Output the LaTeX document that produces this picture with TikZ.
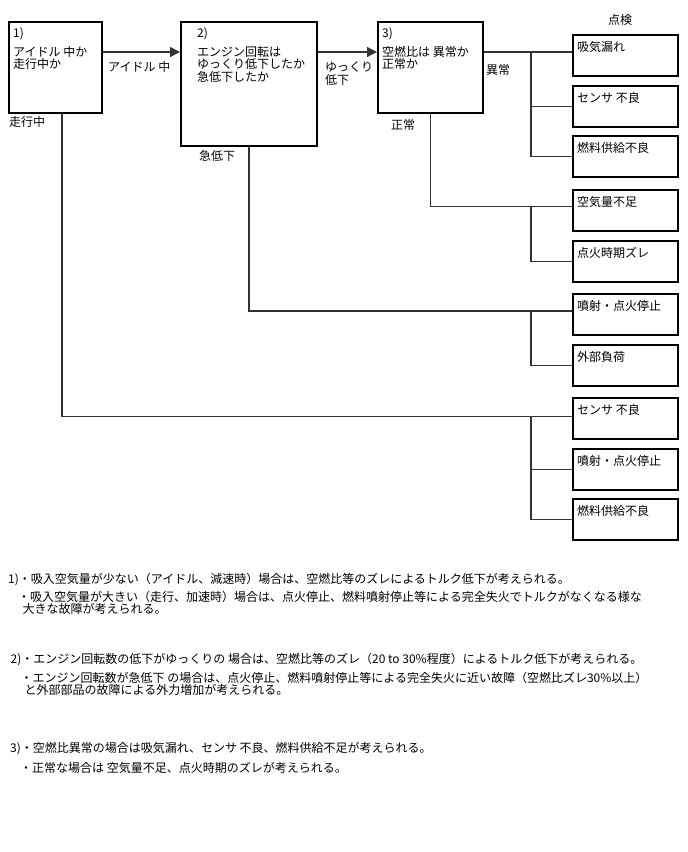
\documentclass[tikz,border=0pt]{standalone}
\usepackage{fontspec}
\setmainfont{Noto Sans CJK JP}
\usetikzlibrary{arrows.meta}

\tikzset{
  qbox/.style={draw,line width=1.8pt,anchor=north west,inner sep=0pt,minimum height=91pt},
  chkbox/.style={draw,line width=1.8pt,anchor=north west,inner sep=0pt,minimum width=105pt,minimum height=41pt},
  intext/.style={anchor=north west,align=left,inner sep=0pt,xshift=5pt,yshift=-6pt},
  tag/.style={anchor=west,inner sep=0pt},
  note/.style={anchor=north west,align=left,inner sep=0pt},
  link/.style={draw=black!80,line width=1.3pt},
  arr/.style={link,-{Triangle[length=10pt,width=10pt]}},
}

\begin{document}
\begin{tikzpicture}[x=1pt,y=-1pt,font=\fontsize{12pt}{12.5pt}\selectfont]
\useasboundingbox (0,0) rectangle (688,852);
% questions
\node[qbox,minimum width=93pt,label={[intext]north west:1)\\[6.5pt]アイドル 中か\\走行中か}] (b1) at (8,21) {};
\node[qbox,minimum width=136pt,minimum height=124pt,label={[intext,xshift=12pt]north west:2)\\[6.5pt]エンジン回転は\\ゆっくり低下したか\\急低下したか}] (b2) at (180,21) {};
\node[qbox,minimum width=105pt,label={[intext]north west:3)\\[6.5pt]空燃比は 異常か\\正常か}] (b3) at (377,21) {};

% check items
\node (head) at (620,20) {点検};
\foreach \n/\y/\t in {c1/34/吸気漏れ,c2/85/センサ 不良,c3/135/燃料供給不良,
    n1/189/空気量不足,n2/240/点火時期ズレ,r1/293/噴射・点火停止,r2/344/外部負荷,
    d1/397/センサ 不良,d2/448/噴射・点火停止,d3/498/燃料供給不良}
  \node[chkbox,label={[intext,yshift=-1pt]north west:\t}] (\n) at (572,\y) {};

% flow
\coordinate (lv) at (0,52);
\draw[arr] (b1.east |- lv) -- (b2.west |- lv);
\draw[arr] (b2.east |- lv) -- (b3.west |- lv);
\draw[link] (b3.east |- lv) -- (c1.west |- lv);
\coordinate (ja) at (531,52);
\draw[link] (ja) |- (c2.west);
\draw[link] (ja) |- (c3.west);

\draw[link] (b3.south) |- ([yshift=4pt]n1.west);
\coordinate (jn) at (531,205.5);
\draw[link] (jn) |- (n2.west);

\draw[link] (b2.south) |- ([yshift=3.5pt]r1.west);
\coordinate (jr) at (531,310);
\draw[link] (jr) |- (r2.west);

\draw[link] ([xshift=6.5pt]b1.south) |- ([yshift=2pt]d1.west);
\coordinate (jd) at (531,415.5);
\draw[link] (jd) |- (d2.west);
\draw[link] (jd) |- (d3.west);

% branch labels
\node[tag] (lidle) at (108,67) {アイドル 中};
\node[tag] (ldrive) at (9,122) {走行中};
\node[tag] (lrapid) at (199,156) {急低下};
\node[note] (lslow) at (325,62) {ゆっくり\\低下};
\node[tag] (labn) at (486,70) {異常};
\node[tag] (lnorm) at (391,125) {正常};

% notes
\node[note] (note1) at (8,573) {1)・吸入空気量が少ない（アイドル、減速時）場合は、空燃比等のズレによるトルク低下が考えられる。\\[4.5pt]
  \hspace*{10pt}・吸入空気量が大きい（走行、加速時）場合は、点火停止、燃料噴射停止等による完全失火でトルクがなくなる様な\\[-0.5pt]
  \hspace*{14.5pt}大きな故障が考えられる。};
\node[note] (note2) at (10.5,653) {2)・エンジン回転数の低下がゆっくりの 場合は、空燃比等のズレ（20 to 30\%程度）によるトルク低下が考えられる。\\[5.5pt]
  \hspace*{10pt}・エンジン回転数が急低下 の場合は、点火停止、燃料噴射停止等による完全失火に近い故障（空燃比ズレ30\%以上）\\[-1pt]
  \hspace*{14pt}と外部部品の故障による外力増加が考えられる。};
\node[note] (note3) at (10,742) {3)・空燃比異常の場合は吸気漏れ、センサ 不良、燃料供給不足が考えられる。\\[6.5pt]
  \hspace*{10pt}・正常な場合は 空気量不足、点火時期のズレが考えられる。};
\end{tikzpicture}
\end{document}
